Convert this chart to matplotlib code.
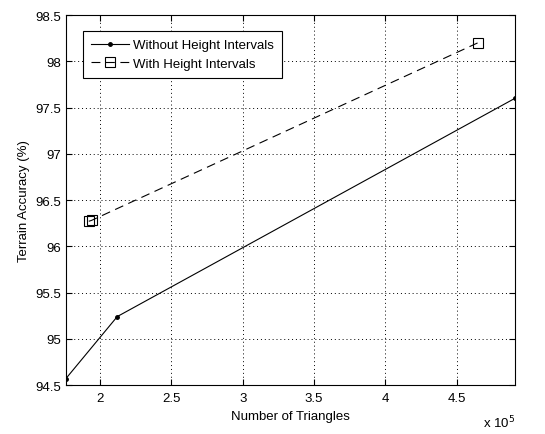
import matplotlib
matplotlib.use('Agg')
import matplotlib.pyplot as plt
from matplotlib.ticker import FuncFormatter

plt.rcParams['font.family'] = ['Liberation Sans', 'DejaVu Sans']

# data
triangles_without = [176000, 212000, 491000]
accuracy_without = [94.57, 95.24, 97.60]
triangles_with = [192000, 194000, 465000]
accuracy_with = [96.27, 96.28, 98.20]

label_without = 'Without Height Intervals'
label_with = 'With Height Intervals'

fs = 9.5

fig = plt.figure(figsize=(5.45, 4.35), dpi=100)
ax = fig.add_axes([0.121, 0.1126, 0.824, 0.8506])

ax.plot(triangles_without, accuracy_without, color='black', lw=0.8,
        marker='.', markersize=5, label=label_without)
ax.plot(triangles_with, accuracy_with, color='black', lw=0.8, ls=(0, (8, 5)),
        marker='s', markersize=7, markerfacecolor='none', markeredgewidth=0.8,
        label=label_with)

ax.set_xlim(176000, 491000)
ax.set_ylim(94.5, 98.5)
ax.set_xticks([200000, 250000, 300000, 350000, 400000, 450000])
ax.xaxis.set_major_formatter(FuncFormatter(lambda v, p: '%g' % (v / 1e5)))
ax.set_yticks([94.5, 95, 95.5, 96, 96.5, 97, 97.5, 98, 98.5])
ax.yaxis.set_major_formatter(FuncFormatter(lambda v, p: '%g' % v))

ax.grid(True, color='black', ls=(0, (1, 3)), lw=0.7)
ax.tick_params(direction='in', labelsize=fs, length=4, top=True, right=True,
               labeltop=False, labelright=False)
ax.tick_params(axis='x', pad=5)
for s in ax.spines.values():
    s.set_linewidth(0.8)

ax.set_xlabel('Number of Triangles', fontsize=fs, labelpad=4)
ax.set_ylabel('Terrain Accuracy (%)', fontsize=fs)
ax.text(1.0, -0.113, r'x 10$^5$', transform=ax.transAxes, ha='right',
        va='baseline', fontsize=fs)

leg = ax.legend(loc='upper left', bbox_to_anchor=(0.038, 0.957), fontsize=fs,
                fancybox=False, framealpha=1, edgecolor='black',
                handlelength=2.9, handletextpad=0.3, borderpad=0.62,
                labelspacing=0.48, borderaxespad=0)
leg.get_frame().set_linewidth(0.8)

fig.savefig('out.png', dpi=100)
